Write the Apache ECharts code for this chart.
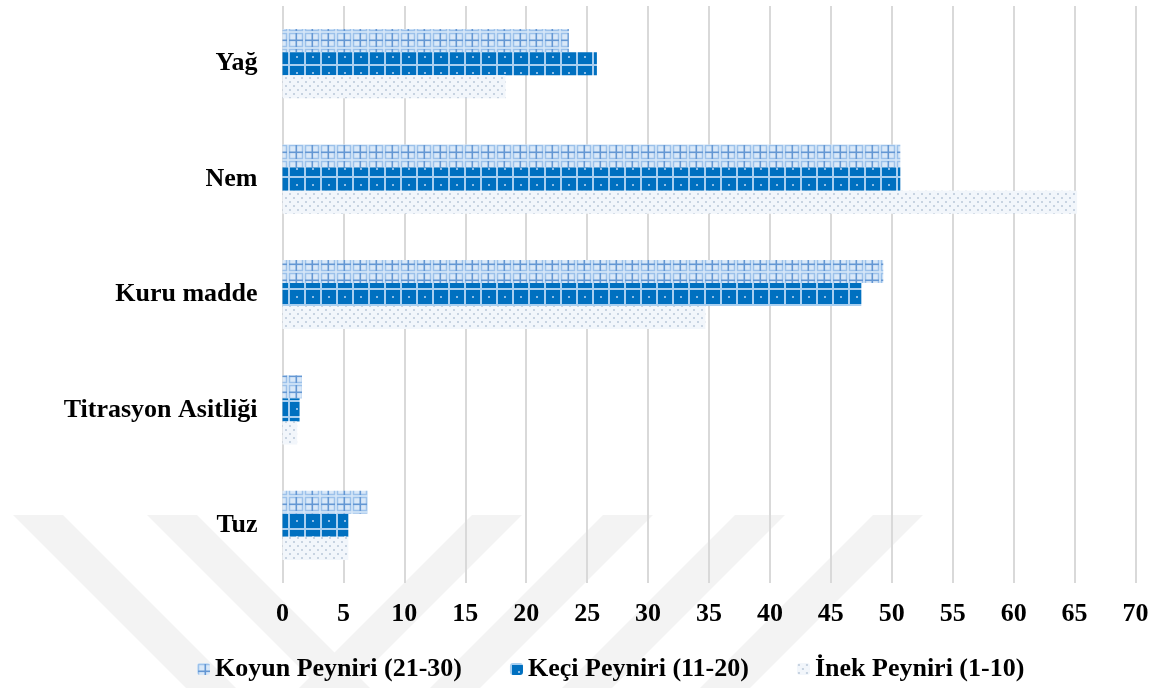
<!DOCTYPE html>
<html>
<head>
<meta charset="utf-8">
<script src="https://cdn.jsdelivr.net/npm/echarts@6/dist/echarts.min.js"></script>
<style>
html,body{margin:0;padding:0;background:#fff;}
#chart{width:1160px;height:688px;}
</style>
</head>
<body>
<div id="chart"></div>
<script>
// Categories listed bottom-to-top (ECharts category y-axis starts at the bottom)
var categories = ['Tuz', 'Titrasyon Asitliği', 'Kuru madde', 'Nem', 'Yağ'];
var seriesNames = ['Koyun Peyniri (21-30)', 'Keçi Peyniri (11-20)', 'İnek Peyniri (1-10)'];
var koyunValues = [7.0, 1.6, 49.3, 50.7, 23.5];
var keciValues  = [5.4, 1.4, 47.5, 50.7, 25.8];
var inekValues  = [5.4, 1.2, 34.7, 65.2, 18.3];
var xTicks = { min: 0, max: 70, interval: 5 };

function makeTile(w, h, draw) {
  var c = document.createElement('canvas');
  c.width = w; c.height = h;
  draw(c.getContext('2d'));
  return { image: c, repeat: 'repeat' };
}
var keciPattern = makeTile(16, 16, function (g) {
  g.fillStyle = '#0070c0'; g.fillRect(0, 0, 16, 16);
  g.fillStyle = '#a9cff0';
  g.fillRect(0, 0, 16, 2); g.fillRect(0, 0, 2, 16);
  g.fillStyle = '#8fbde6'; g.fillRect(8, 8, 2, 2);
});
var koyunPattern = makeTile(16, 16, function (g) {
  g.fillStyle = '#d9e8f8'; g.fillRect(0, 0, 16, 16);
  g.strokeStyle = '#9cc1ea'; g.lineWidth = 1.5;
  g.strokeRect(1.5, 1.5, 13, 13);
  g.fillStyle = '#6497d3';
  g.fillRect(7.5, 1, 1.6, 14); g.fillRect(1, 7.5, 14, 1.6);
});
var inekPattern = makeTile(8, 8, function (g) {
  g.fillStyle = '#f2f6fb'; g.fillRect(0, 0, 8, 8);
  g.fillStyle = '#c7d3e1';
  g.fillRect(1, 1, 2, 2); g.fillRect(5, 5, 2, 2);
});

// faint background watermark stripes
function stripe(x0, dir) {
  var w = 50, top = 515, bot = 700, d = (bot - top) * dir;
  return { type: 'polygon', z: -1, silent: true,
    shape: { points: [[x0, top], [x0 + w, top], [x0 + w + d, bot], [x0 + d, bot]] },
    style: { fill: '#f3f3f3' } };
}
var wm = [stripe(13, 1), stripe(147, 1), stripe(472, -1), stripe(603, -1), stripe(735, -1), stripe(873, -1)];

var font = 'Liberation Serif, Times New Roman, serif';
var chart = echarts.init(document.getElementById('chart'), null, { renderer: 'canvas' });
chart.setOption({
  backgroundColor: '#fff',
  animation: false,
  graphic: { elements: wm },
  grid: { left: 282.5, right: 24.5, top: 6, bottom: 105, containLabel: false },
  legend: {
    data: seriesNames,
    left: 192, top: 651,
    itemWidth: 13, itemHeight: 12, itemGap: 48,
    textStyle: { fontFamily: font, fontSize: 26, fontWeight: 'bold', color: '#000' }
  },
  xAxis: {
    type: 'value', min: xTicks.min, max: xTicks.max, interval: xTicks.interval,
    axisLine: { show: false }, axisTick: { show: false },
    splitLine: { show: true, lineStyle: { color: '#d9d9d9', width: 2 } },
    axisLabel: { fontFamily: font, fontSize: 26, fontWeight: 'bold', color: '#000', margin: 18 }
  },
  yAxis: {
    type: 'category', data: categories,
    axisLine: { show: false }, axisTick: { show: false },
    splitLine: { show: false },
    axisLabel: { fontFamily: font, fontSize: 26, fontWeight: 'bold', color: '#000', margin: 25 }
  },
  series: [
    { name: seriesNames[0], type: 'bar', data: koyunValues, barGap: '0%', barCategoryGap: '40%',
      itemStyle: { color: koyunPattern } },
    { name: seriesNames[1], type: 'bar', data: keciValues, barGap: '0%', barCategoryGap: '40%',
      itemStyle: { color: keciPattern } },
    { name: seriesNames[2], type: 'bar', data: inekValues, barGap: '0%', barCategoryGap: '40%',
      itemStyle: { color: inekPattern } }
  ]
});
</script>
</body>
</html>
